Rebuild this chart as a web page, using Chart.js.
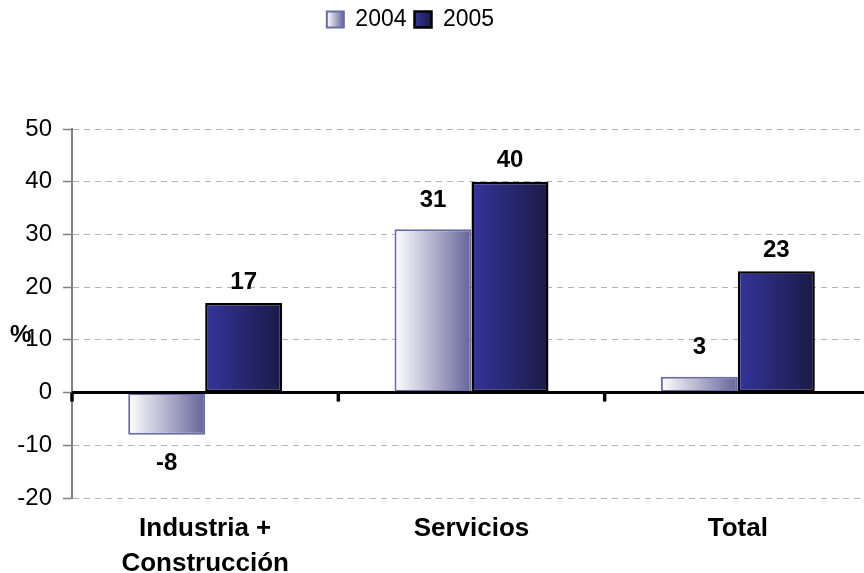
<!DOCTYPE html>
<html>
<head>
<meta charset="utf-8">
<script src="https://cdn.jsdelivr.net/npm/chart.js@4.4.1/dist/chart.umd.min.js"></script>
<style>
  html, body { margin: 0; padding: 0; overflow: hidden; background: #fff; width: 864px; height: 573px; }
  #wrap { position: relative; width: 871px; height: 573px; }
</style>
</head>
<body>
<div id="wrap"><canvas id="c" width="871" height="573"></canvas></div>
<script>
// ---- data ----
const categories = [['Industria +', 'Construcción'], 'Servicios', 'Total'];
const seriesNames = ['2004', '2005'];
const values2004 = [-8, 31, 3];
const values2005 = [17, 40, 23];
const yMin = -20, yMax = 50, yStep = 10;
const yUnitLabel = '%';

// ---- style ----
const FONT = "'Liberation Sans', Arial, Helvetica, sans-serif";
const CAT_PCT = 0.578;
const STY = [
  { from: '#ffffff', to: '#64649a', border: '#6a6aaa', borderWidth: 2, labelOffset: 29 },
  { from: '#34349c', to: '#1a1a46', border: '#000000', borderWidth: 2.5, labelOffset: 21 }
];
const LEGEND_BLOCK_H = 129;
const LEGEND_DX = -25;
const LEGEND_DY = 0;

function barSpan(chart, di, i) {
  const xs = chart.scales.x;
  const c = xs.getPixelForValue(i);
  const cw = Math.abs(xs.getPixelForValue(i + 0.5) - xs.getPixelForValue(i - 0.5));
  const gw = cw * CAT_PCT;
  const sw = gw / chart.data.datasets.length;
  const left = c - gw / 2 + di * sw;
  return [left, left + sw];
}
function hGrad(c2d, x0, x1, from, to) {
  const g = c2d.createLinearGradient(x0, 0, x1, 0);
  g.addColorStop(0, from);
  g.addColorStop(1, to);
  return g;
}
function barBg(di) {
  return (ctx) => {
    const st = STY[di];
    if (ctx.type !== 'data' || !ctx.chart.scales || !ctx.chart.scales.x) return st.to;
    const [a, b] = barSpan(ctx.chart, di, ctx.dataIndex);
    if (!isFinite(a) || !isFinite(b)) return st.to;
    return hGrad(ctx.chart.ctx, a, b, st.from, st.to);
  };
}

const decor = {
  id: 'decor',
  beforeUpdate(chart) {
    const lg = chart.legend;
    if (lg && !lg._fitWrapped) {
      const orig = lg.fit;
      lg.fit = function () { orig.call(this); this.height = LEGEND_BLOCK_H; };
      lg._fitWrapped = true;
    }
  },
  afterLayout(chart) {
    const lg = chart.legend;
    if (lg) { lg.left += LEGEND_DX; lg.right += LEGEND_DX; lg.top += LEGEND_DY; }
  },
  beforeDraw(chart) {
    const lg = chart.legend;
    if (!lg || !lg.legendItems || !lg.lineWidths || !lg.legendHitBoxes) return;
    const pad = lg.options.labels.padding;
    const bw = lg.options.labels.boxWidth;
    let x = (lg.left + pad + lg.right - lg.lineWidths[0]) / 2;
    lg.legendItems.forEach((it, k) => {
      const st = STY[k];
      it.fillStyle = hGrad(chart.ctx, x, x + bw, st.from, st.to);
      x += lg.legendHitBoxes[k].width + pad;
    });
  },
  afterDatasetsDraw(chart) {
    const ys = chart.scales.y, xs = chart.scales.x, ca = chart.chartArea, c = chart.ctx;
    const y0 = ys.getPixelForValue(0);
    c.save();
    c.strokeStyle = '#000';
    c.lineWidth = 3;
    c.beginPath(); c.moveTo(ca.left, y0); c.lineTo(ca.right, y0); c.stroke();
    c.lineWidth = 3.5;
    for (let i = 0; i <= categories.length; i++) {
      const x = xs.getPixelForValue(i - 0.5);
      c.beginPath(); c.moveTo(x, y0); c.lineTo(x, y0 + 9); c.stroke();
    }
    c.font = 'bold 24px ' + FONT;
    c.fillStyle = '#000';
    c.textAlign = 'center';
    c.textBaseline = 'middle';
    chart.data.datasets.forEach((ds, di) => {
      const meta = chart.getDatasetMeta(di);
      meta.data.forEach((el, i) => {
        const v = ds.data[i];
        const off = STY[di].labelOffset;
        const y = v >= 0 ? el.y - off : el.y + off;
        c.fillText(String(v), el.x, y);
      });
    });
    c.restore();
  },
  afterDraw(chart) {
    const ys = chart.scales.y, c = chart.ctx;
    c.save();
    c.font = 'bold 24px ' + FONT;
    c.fillStyle = '#000';
    c.textAlign = 'left';
    c.textBaseline = 'middle';
    c.fillText(yUnitLabel, chart.chartArea.left - 62, ys.getPixelForValue(10) - 4);
    c.restore();
  }
};

new Chart(document.getElementById('c'), {
  type: 'bar',
  data: {
    labels: categories,
    datasets: [
      { label: seriesNames[0], data: values2004, backgroundColor: barBg(0), borderColor: STY[0].border, borderWidth: STY[0].borderWidth, borderSkipped: false },
      { label: seriesNames[1], data: values2005, backgroundColor: barBg(1), borderColor: STY[1].border, borderWidth: STY[1].borderWidth, borderSkipped: false }
    ]
  },
  options: {
    responsive: false,
    animation: false,
    events: [],
    devicePixelRatio: 1,
    layout: { padding: 0 },
    datasets: { bar: { categoryPercentage: CAT_PCT, barPercentage: 1 } },
    plugins: {
      tooltip: { enabled: false },
      legend: {
        position: 'top',
        align: 'center',
        labels: {
          boxWidth: 17, boxHeight: 16, padding: 8, color: '#000',
          font: { family: FONT, size: 23 },
          generateLabels: (chart) => chart.data.datasets.map((ds, i) => ({
            text: ds.label, fillStyle: STY[i].to, strokeStyle: STY[i].border,
            lineWidth: STY[i].borderWidth, hidden: false, datasetIndex: i, fontColor: '#000'
          }))
        }
      }
    },
    scales: {
      x: {
        grid: { display: false },
        border: { display: false },
        ticks: { color: '#000', font: { family: FONT, size: 26, weight: 'bold', lineHeight: 1.35 }, padding: 5, maxRotation: 0, autoSkip: false },
        afterFit: (s) => { s.height = 75; }
      },
      y: {
        min: yMin, max: yMax,
        ticks: { stepSize: yStep, color: '#000', font: { family: FONT, size: 24 }, padding: 11 },
        grid: {
          color: (ctx) => (ctx.tick && ctx.tick.value === 0) ? 'rgba(0,0,0,0)' : '#b3b3b3',
          lineWidth: 1, tickLength: 9, tickColor: '#808080', tickWidth: 1.5
        },
        border: { color: '#808080', width: 2, dash: [6, 5] },
        afterFit: (s) => { s.width = 72; }
      }
    }
  },
  plugins: [decor]
});
</script>
</body>
</html>
